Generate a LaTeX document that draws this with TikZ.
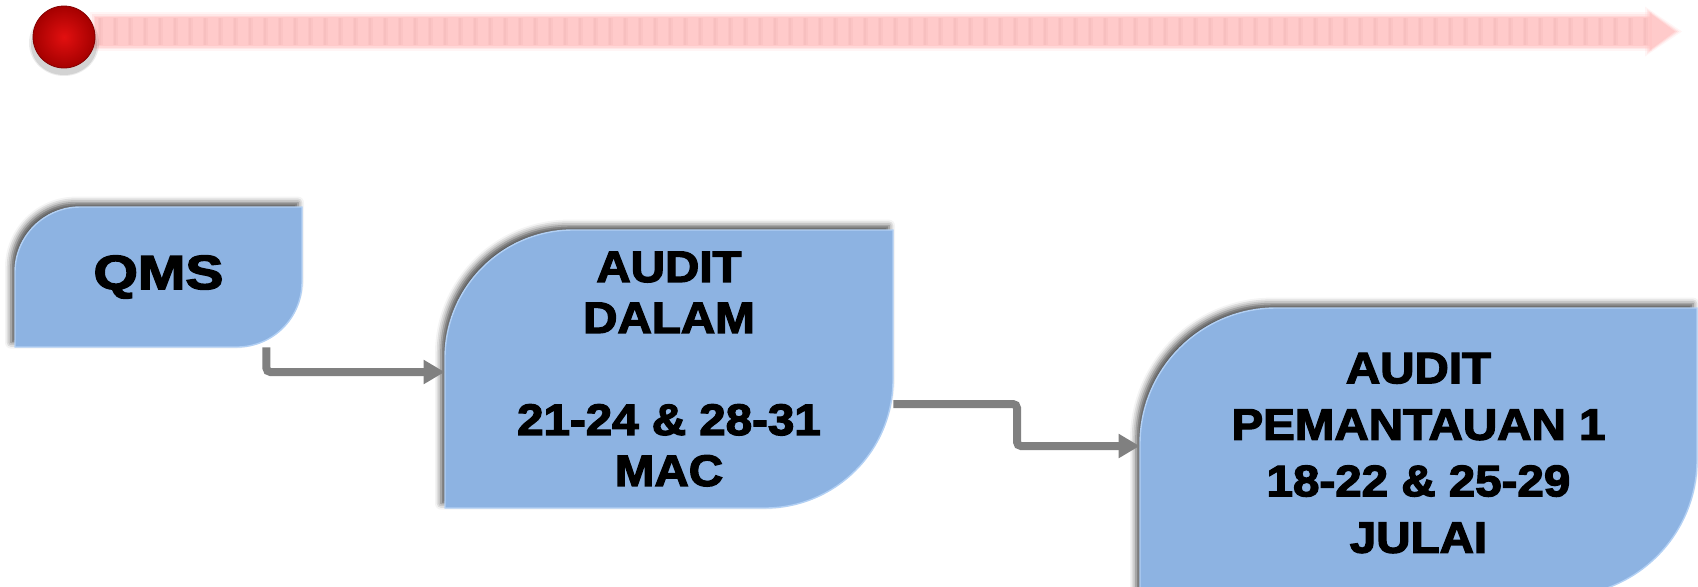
\documentclass[tikz,border=0pt]{standalone}
\usepackage{fontspec}
\setmainfont{Liberation Sans}
\newfontfamily\bxf{Liberation Sans}[BoldFeatures={FakeStretch=1.08,FakeBold=3}]
\usetikzlibrary{arrows.meta,calc,shadows.blur}
\definecolor{boxblue}{RGB}{141,179,226}
\definecolor{boxedge}{RGB}{178,208,244}
\definecolor{conngray}{RGB}{128,128,128}
\definecolor{barpink}{RGB}{255,198,198}
\definecolor{barstripe}{RGB}{236,172,172}
\definecolor{ballin}{RGB}{226,16,16}
\definecolor{ballout}{RGB}{165,0,0}
\newcommand\dgshape[6]{%
  \path[#1] (#2,{#3+#6}) .. controls (#2,{#3+0.448*#6}) and ({#2+0.448*#6},#3) .. ({#2+#6},#3)
    -- (#4,#3) -- (#4,{#5-#6}) .. controls (#4,{#5-0.448*#6}) and ({#4-0.448*#6},#5) .. ({#4-#6},#5)
    -- (#2,#5) -- cycle;}
\tikzset{
  boxfill/.style={fill=boxblue,draw=boxedge,line width=0.7pt,
    blur shadow={shadow xshift=-2pt,shadow yshift=2.2pt,shadow blur radius=3pt,shadow opacity=70}},
  btext/.style={inner sep=0pt,align=center,text=black,
    font=\fontsize{22}{25.5}\selectfont\bxf\bfseries},
  conn/.style={draw=conngray,line width=4pt,rounded corners=2pt,
    -{Triangle[length=10.5pt,width=11.5pt]}},
}
\begin{document}
\begin{tikzpicture}[x=0.5pt,y=-0.5pt]
\useasboundingbox (0,0) rectangle (1698,586);
\clip (0,0) rectangle (1698,586);
% timeline bar (soft, blurred look)
\foreach \g/\op in {5/0.18,3/0.3,1.5/0.45}{
  \fill[barpink,opacity=\op] ({95-\g},{17-\g}) rectangle (1652,{46+\g});
  \fill[barpink,opacity=\op] ({1650-\g},{13-\g*1.3}) -- ({1675+\g*1.4},31.5) -- ({1650-\g},{50+\g*1.3}) -- cycle;
}
\fill[barpink,opacity=0.8] (95,17) rectangle (1652,46);
\fill[barpink,opacity=0.8] (1650,13) -- (1675,31.5) -- (1650,50) -- cycle;
\foreach \sx in {100,115,...,1645}{
  \draw[barstripe,line width=2.5pt,opacity=0.16] (\sx,18) -- (\sx,45);
  \draw[barstripe,line width=1pt,opacity=0.22] (\sx,18) -- (\sx,45);
}
% red ball
\fill[black,opacity=0.10] (64,45) ellipse [x radius=33,y radius=30];
\fill[black,opacity=0.08] (64,43) ellipse [x radius=35,y radius=33];
\node[circle,minimum size=31pt,inner sep=0pt,inner color=ballin,outer color=ballout,
  draw=ballout!80!black,line width=0.4pt] (ball) at (64,37) {};
% boxes
\dgshape{boxfill}{15}{207}{302}{347}{65}
\dgshape{boxfill}{445}{230}{893}{508}{128}
\dgshape{boxfill}{1140}{308}{1697}{596}{136}
\node[btext,minimum width=143.5pt,minimum height=70pt] (qms) at (158.5,277)
  {\fontsize{24}{28}\selectfont\scalebox{1.1}[1]{QMS}};
\node[btext,minimum width=224pt,minimum height=139pt] (audit) at (669,369)
  {AUDIT\\DALAM\\\mbox{}\\21-24 \& 28-31\\MAC};
\node[btext,minimum width=278.5pt,minimum height=144pt,
  font=\fontsize{22}{28.25}\selectfont\bxf\bfseries] (pem) at (1418.5,453)
  {AUDIT\\PEMANTAUAN 1\\18-22 \& 25-29\\JULAI};
% connectors
\coordinate (c1) at ($(qms.south east)+(-36,0)$);
\draw[conn] (c1) |- ($(audit.west)+(0,3)$);
\coordinate (c2) at ($(audit.east)+(0,35)$);
\coordinate (bend) at (1017,404);
\draw[conn] (c2) -- (bend) |- ($(pem.west)+(0,-7)$);
\end{tikzpicture}
\end{document}
